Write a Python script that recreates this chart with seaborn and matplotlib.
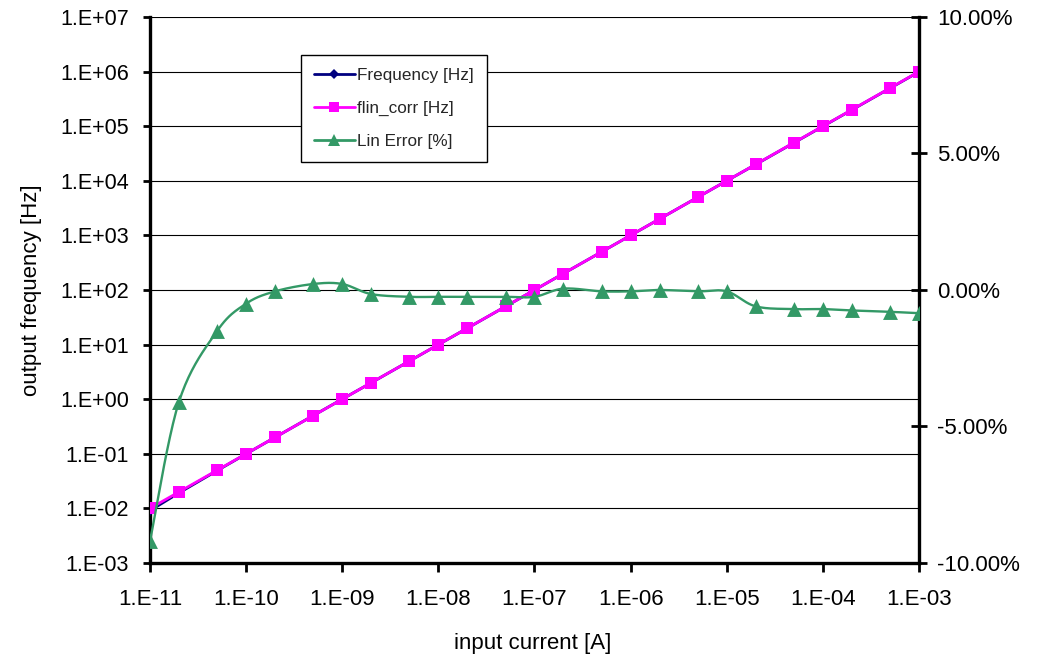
import numpy as np
import pandas as pd
import matplotlib
matplotlib.use("Agg")
import matplotlib.pyplot as plt
import seaborn as sns
from matplotlib.ticker import FixedLocator, FuncFormatter, NullLocator
from matplotlib.lines import Line2D

# ---- measured data -------------------------------------------------------
current = [1e-11, 2e-11, 5e-11, 1e-10, 2e-10, 5e-10, 1e-9, 2e-9, 5e-9,
           1e-8, 2e-8, 5e-8, 1e-7, 2e-7, 5e-7, 1e-6, 2e-6, 5e-6,
           1e-5, 2e-5, 5e-5, 1e-4, 2e-4, 5e-4, 1e-3]
frequency = [0.00908, 0.01918, 0.04925, 0.0995, 0.1999, 0.5011, 1.0022, 1.997, 4.9875,
             9.975, 19.95, 49.875, 99.75, 200.1, 499.75, 999.5, 2000.0, 4997.5,
             9995.0, 19880.0, 49650.0, 99300.0, 198500.0, 496000.0, 991500.0]
flin_corr = [0.01, 0.02, 0.05, 0.1, 0.2, 0.5, 1.0, 2.0, 5.0,
             10.0, 20.0, 50.0, 100.0, 200.0, 500.0, 1000.0, 2000.0, 5000.0,
             1e4, 2e4, 5e4, 1e5, 2e5, 5e5, 1e6]
lin_error = [-9.2, -4.1, -1.5, -0.5, -0.05, 0.22, 0.22, -0.15, -0.25,
             -0.25, -0.25, -0.25, -0.25, 0.05, -0.05, -0.05, 0.0, -0.05,
             -0.05, -0.6, -0.7, -0.7, -0.75, -0.8, -0.85]

series_names = ["Frequency [Hz]", "flin_corr [Hz]", "Lin Error [%]"]
x_tick_exponents = list(range(-11, -2))
y_tick_exponents = list(range(-3, 8))
err_ticks = [-10, -5, 0, 5, 10]

NAVY = "#000080"
MAGENTA = "#ff00ff"
GREEN = "#339966"

sns.set_theme(style="ticks")
plt.rcParams["font.family"] = ["Liberation Sans", "DejaVu Sans"]

fig = plt.figure(figsize=(10.43, 6.56), dpi=100)
fig.patch.set_facecolor("white")
ax = fig.add_axes([0.1438, 0.1418, 0.7373, 0.8323])
ax.set_facecolor("white")
ax.set_xscale("log")
ax.set_yscale("log")
ax.set_xlim(10.0 ** x_tick_exponents[0], 10.0 ** x_tick_exponents[-1])
ax.set_ylim(10.0 ** y_tick_exponents[0], 10.0 ** y_tick_exponents[-1])

ax2 = ax.twinx()
ax2.set_ylim(err_ticks[0], err_ticks[-1])
ax2.set_xlim(ax.get_xlim())


def smooth_curve(axes, x, y, steps=24):
    """Catmull-Rom style smoothing done in display space."""
    pts = axes.transData.transform(np.column_stack([x, y]))
    p = np.vstack([pts[0], pts, pts[-1]])
    t = np.linspace(0.0, 1.0, steps)[:, None]
    parts = []
    for i in range(1, len(p) - 2):
        p0, p1, p2, p3 = p[i - 1], p[i], p[i + 1], p[i + 2]
        c1 = p1 + (p2 - p0) / 6.0
        c2 = p2 - (p3 - p1) / 6.0
        seg = ((1 - t) ** 3) * p1 + 3 * ((1 - t) ** 2) * t * c1 \
            + 3 * (1 - t) * (t ** 2) * c2 + (t ** 3) * p2
        parts.append(seg if i == 1 else seg[1:])
    curve = axes.transData.inverted().transform(np.vstack(parts))
    return curve[:, 0], curve[:, 1]


df = pd.DataFrame({"current": current, "frequency": frequency,
                   "flin_corr": flin_corr, "lin_error": lin_error})

# frequency / corrected frequency on the logarithmic left axis
sns.lineplot(data=df, x="current", y="frequency", ax=ax, color=NAVY, lw=2,
             marker="D", markersize=5, markeredgewidth=0, zorder=3)
sns.lineplot(data=df, x="current", y="flin_corr", ax=ax, color=MAGENTA, lw=2,
             marker="s", markersize=9, markeredgewidth=0, zorder=4)

# linearity error on the right axis
sx, sy = smooth_curve(ax2, df["current"].to_numpy(), df["lin_error"].to_numpy())
sns.lineplot(x=sx, y=sy, ax=ax2, color=GREEN, lw=1.7, sort=False, estimator=None)
sns.scatterplot(data=df, x="current", y="lin_error", ax=ax2, color=GREEN,
                marker="^", s=115, linewidth=0, zorder=5)

# axes styling
ax.grid(axis="y", color="black", lw=0.8)
ax.grid(axis="x", visible=False)
ax.set_axisbelow(True)
for a in (ax, ax2):
    a.spines["top"].set_visible(False)
ax.spines["right"].set_visible(False)
ax2.spines["left"].set_visible(False)
ax2.spines["bottom"].set_visible(False)
for s in ("left", "bottom"):
    ax.spines[s].set_linewidth(2.4)
    ax.spines[s].set_color("black")
ax2.spines["right"].set_linewidth(2.4)
ax2.spines["right"].set_color("black")

ax.xaxis.set_major_locator(FixedLocator([10.0 ** e for e in x_tick_exponents]))
ax.xaxis.set_minor_locator(NullLocator())
ax.xaxis.set_major_formatter(FuncFormatter(lambda v, p: f"1.E{int(round(np.log10(v))):+03d}"))
ax.yaxis.set_major_locator(FixedLocator([10.0 ** e for e in y_tick_exponents]))
ax.yaxis.set_minor_locator(NullLocator())
ax.yaxis.set_major_formatter(FuncFormatter(lambda v, p: f"1.E{int(round(np.log10(v))):+03d}"))
ax2.yaxis.set_major_locator(FixedLocator(err_ticks))
ax2.yaxis.set_major_formatter(FuncFormatter(lambda v, p: f"{v:.2f}%"))

ax.tick_params(axis="x", direction="out", length=6.5, width=2, pad=12.5,
               labelsize=16, colors="black")
ax.tick_params(axis="y", direction="out", length=5, width=2, pad=10,
               labelsize=15.5, colors="black")
ax2.tick_params(axis="y", direction="inout", length=12, width=2, pad=7,
                labelsize=16, colors="black")

ax.set_xlabel("input current [A]", fontsize=16, color="black")
ax.set_ylabel("output frequency [Hz]", fontsize=16, color="black")
ax2.set_ylabel("")
ax.xaxis.set_label_coords(0.498, -0.129)
ax.yaxis.set_label_coords(-0.140, 0.5)

handles = [
    Line2D([], [], color=NAVY, lw=2, marker="D", markersize=5, markeredgewidth=0),
    Line2D([], [], color=MAGENTA, lw=2, marker="s", markersize=7, markeredgewidth=0),
    Line2D([], [], color=GREEN, lw=2, marker="^", markersize=8, markeredgewidth=0),
]
leg = ax2.legend(handles, series_names, loc="upper left",
                 bbox_to_anchor=(0.1963, 0.9304), borderaxespad=0,
                 fontsize=12.3, frameon=True, fancybox=False, framealpha=1,
                 edgecolor="black", handlelength=2.4, handletextpad=0.15,
                 borderpad=0.75, labelspacing=1.05, numpoints=1)
leg.get_frame().set_linewidth(1.0)

fig.savefig("out.png", dpi=100, facecolor="white")
